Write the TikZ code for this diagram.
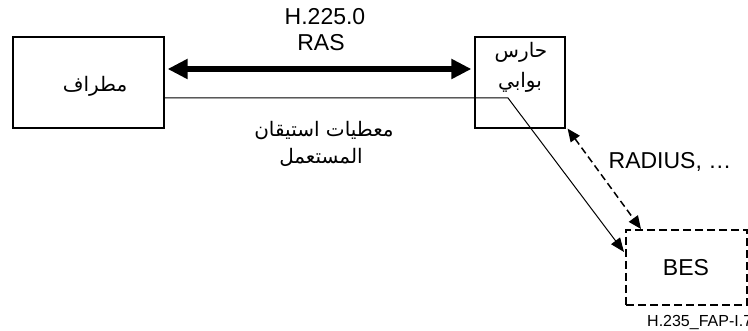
\documentclass[tikz,border=0pt]{standalone}
\usepackage{fontspec}
\setmainfont{Liberation Sans}
\newfontfamily\arabicfont[Script=Arabic]{DejaVu Sans}
\TeXXeTstate=1
\usetikzlibrary{arrows.meta}
\tikzset{
  box/.style={draw, line width=1.2pt, inner sep=0pt},
  lat/.style={font=\fontsize{23}{26}\selectfont, inner sep=0pt},
  arb/.style={font=\arabicfont\fontsize{20}{24}\selectfont, inner sep=0pt},
  thickarrow/.style={line width=6pt, {Triangle[length=20pt,width=19pt]}-{Triangle[length=20pt,width=19pt]}},
  thinarrow/.style={line width=1pt, -{Triangle[length=14pt,width=11pt]}},
  dasharrow/.style={line width=1.5pt, dash pattern=on 7pt off 4pt, {Triangle[length=13pt,width=11pt]}-{Triangle[length=13pt,width=11pt]}}
}
\begin{document}
\begin{tikzpicture}[x=1pt,y=-1pt]
\useasboundingbox (0,0) rectangle (748,331);
\node[box, minimum width=151pt, minimum height=91pt] (term) at (88.5,82.5) {};
\node[box, minimum width=90pt, minimum height=91pt] (gk) at (520,82.5) {};
\node[draw, line width=2pt, dash pattern=on 8pt off 4pt, minimum width=121pt, minimum height=75pt, inner sep=0pt] (bes) at (686.5,267.5) {};
\node[arb] (termtxt) at (95,86) {\beginR مطراف\endR};
\node[arb] (gk1) at (521,52) {\beginR حارس\endR};
\node[arb] (gk2) at (520,82) {\beginR بوابي\endR};
\node[lat] (besl) at (686,268) {BES};
\node[lat] (h225) at (325,17) {H.225.0};
\node[lat] (ras) at (321,43) {RAS};
\node[arb] (auth1) at (324,131) {\beginR معطيات استيقان\endR};
\node[arb] (auth2) at (321,157) {\beginR المستعمل\endR};
\node[lat] (radius) at (670,162) {RADIUS, \ldots};
\node[font=\fontsize{16}{18}\selectfont, inner sep=0pt, anchor=west] (fig) at (647,323) {H.235\_FAP-I.7};
\coordinate (bend) at (508,98);
\draw[thickarrow] ([yshift=13.5pt,xshift=3pt]term.east) -- ([yshift=13.5pt,xshift=-3pt]gk.west);
\draw[thinarrow] ([yshift=-15.5pt]term.east) -- (bend) -- ([yshift=15.5pt,xshift=-1pt]bes.west);
\draw[dasharrow] ([xshift=2pt]gk.south east) -- ([xshift=16pt]bes.north west);
\end{tikzpicture}
\end{document}
